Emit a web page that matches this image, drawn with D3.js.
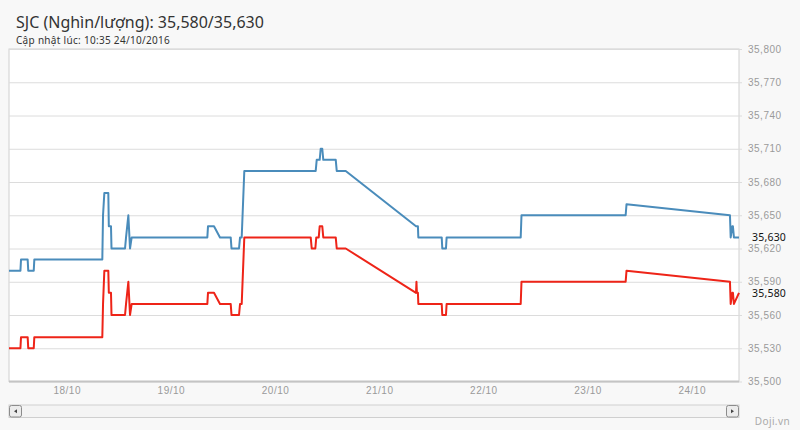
<!doctype html>
<html>
<head>
<meta charset="utf-8">
<style>
body { margin:0; background:#f8f8f8; font-family:"Noto Sans", sans-serif; }
.axis text { fill:#9a9a9a; font-size:10px; letter-spacing:0.5px; }
.axis path { display:none; }
.grid line { stroke:#dcdcdc; }
.grid path, .grid text { display:none; }
</style>
<script src="https://d3js.org/d3.v7.min.js"></script>
</head>
<body>
<script>

// gia ban (xanh) / gia mua (do), nghin dong / luong
var sellTimes = ["17/10 10:42","17/10 13:20","17/10 13:28","17/10 15:00","17/10 15:08","17/10 16:24","17/10 16:32",
  "18/10 08:12","18/10 08:22","18/10 08:40","18/10 09:35","18/10 09:42","18/10 10:12","18/10 10:19","18/10 13:26",
  "18/10 13:40","18/10 14:12","18/10 14:35","18/10 14:58","19/10 08:24","19/10 08:33","19/10 09:56","19/10 11:19",
  "19/10 13:47","19/10 13:58","19/10 15:42","19/10 15:56","19/10 16:19","19/10 16:55","20/10 09:22","20/10 09:36",
  "20/10 10:17","20/10 10:31","20/10 10:53","20/10 11:07","20/10 13:59","20/10 14:13","20/10 16:17","21/10 08:29",
  "21/10 08:55","21/10 09:01","21/10 14:24","21/10 14:32","21/10 15:23","21/10 15:32","22/10 08:36","22/10 08:47",
  "23/10 08:47","23/10 08:59","24/10 08:49","24/10 08:59","24/10 09:21","24/10 09:30","24/10 09:44","24/10 10:54"];
var sellValues = [35600,35600,35610,35610,35600,35600,35610,
  35610,35650,35670,35670,35640,35640,35620,35620,
  35630,35650,35620,35630,35630,35640,35640,35630,
  35630,35620,35620,35630,35630,35690,35690,35700,
  35700,35710,35710,35700,35700,35690,35690,35640,
  35640,35630,35630,35620,35620,35630,35630,35650,
  35650,35660,35650,35630,35640,35640,35630,35630];

var buyTimes = ["17/10 10:42","17/10 13:20","17/10 13:28","17/10 15:00","17/10 15:08","17/10 16:24","17/10 16:32",
  "18/10 08:12","18/10 08:22","18/10 08:40","18/10 09:35","18/10 09:42","18/10 10:12","18/10 10:19","18/10 13:26",
  "18/10 13:40","18/10 14:12","18/10 14:35","18/10 14:58","19/10 08:24","19/10 08:33","19/10 09:56","19/10 11:19",
  "19/10 13:47","19/10 13:58","19/10 15:42","19/10 15:56","19/10 16:19","19/10 16:55","20/10 08:13","20/10 08:27",
  "20/10 09:17","20/10 09:30","20/10 10:04","20/10 10:17","20/10 10:53","20/10 11:07","20/10 13:59","20/10 14:13",
  "20/10 16:17","21/10 08:29","21/10 08:35","21/10 08:41","21/10 08:55","21/10 09:01","21/10 14:24","21/10 14:32",
  "21/10 15:23","21/10 15:32","22/10 08:36","22/10 08:47","23/10 08:47","23/10 08:59","24/10 08:49","24/10 08:59",
  "24/10 09:21","24/10 09:30","24/10 09:44","24/10 10:54"];
var buyValues = [35530,35530,35540,35540,35530,35530,35540,
  35540,35570,35600,35600,35580,35580,35560,35560,
  35570,35590,35560,35570,35570,35580,35580,35570,
  35570,35560,35560,35570,35570,35630,35630,35620,
  35620,35630,35630,35640,35640,35630,35630,35620,
  35620,35580,35590,35580,35580,35570,35570,35560,
  35560,35570,35570,35590,35590,35600,35590,35570,
  35580,35580,35570,35580];

var yTicks = [35500,35530,35560,35590,35620,35650,35680,35710,35740,35770,35800];
var xStart = "17/10 10:42", xEnd = "24/10 10:54";
var lastBuy = 35580, lastSell = 35630;
var titleText = "SJC (Nghìn/lượng): 35,580/35,630";
var updatedText = "Cập nhật lúc: 10:35 24/10/2016";

var W = 800, H = 430;
var plotL = 9, plotR = 739, plotT = 49, plotB = 381.5;

var parse = function (s) { return d3.timeParse("%Y %d/%m %H:%M")("2016 " + s); };

var svg = d3.select("body").append("svg")
  .attr("width", W).attr("height", H);

svg.append("rect").attr("width", W).attr("height", H).attr("fill", "#f8f8f8");

var x = d3.scaleTime().domain([parse(xStart), parse(xEnd)]).range([plotL, plotR]);
var y = d3.scaleLinear().domain([35500, 35800]).range([plotB, plotT]);

// plot background
svg.append("rect")
  .attr("x", plotL).attr("y", plotT)
  .attr("width", plotR - plotL).attr("height", plotB - plotT)
  .attr("fill", "#fff").attr("stroke", "#d0d0d0");

// grid
svg.append("g").attr("class", "grid")
  .attr("transform", "translate(" + (plotR + 3) + ",0)")
  .call(d3.axisLeft(y).tickValues(yTicks).tickSize(plotR - plotL + 3).tickFormat(""));

// bottom border
svg.append("line")
  .attr("x1", plotL).attr("x2", plotR).attr("y1", plotB).attr("y2", plotB)
  .attr("stroke", "#c4c4c4").attr("stroke-width", 2);

// y axis on right
svg.append("g").attr("class", "axis")
  .attr("transform", "translate(" + plotR + ",0)")
  .call(d3.axisRight(y).tickValues(yTicks).tickSize(0).tickPadding(9).tickFormat(d3.format(",")));

// x axis
svg.append("g").attr("class", "axis")
  .attr("transform", "translate(0," + plotB + ")")
  .call(d3.axisBottom(x).ticks(d3.timeDay.every(1)).tickSize(0).tickPadding(5)
    .tickFormat(d3.timeFormat("%d/%m")));

var line = d3.line()
  .x(function (d) { return x(d[0]); })
  .y(function (d) { return y(d[1]); });

var sell = sellTimes.map(function (t, i) { return [parse(t), sellValues[i]]; });
var buy = buyTimes.map(function (t, i) { return [parse(t), buyValues[i]]; });

svg.append("path").datum(sell).attr("d", line)
  .attr("fill", "none").attr("stroke", "#4a8cbb").attr("stroke-width", 2).attr("stroke-linejoin", "round");
svg.append("path").datum(buy).attr("d", line)
  .attr("fill", "none").attr("stroke", "#ee2418").attr("stroke-width", 2).attr("stroke-linejoin", "round");

// last value labels
[lastSell, lastBuy].forEach(function (v) {
  svg.append("text")
    .attr("x", plotR + 13).attr("y", y(v)).attr("dy", "0.35em")
    .attr("font-size", 10.5).attr("fill", "#111").attr("letter-spacing", 0.2)
    .text(d3.format(",")(v));
});

// title
svg.append("text").attr("x", 16).attr("y", 28)
  .attr("font-size", 16).attr("fill", "#333").text(titleText);
svg.append("text").attr("x", 16).attr("y", 44)
  .attr("font-size", 10).attr("fill", "#333").attr("letter-spacing", 0.3).text(updatedText);

// scrollbar
var sb = svg.append("g");
sb.append("rect").attr("x", plotL).attr("y", 405).attr("width", plotR - plotL).attr("height", 12.5)
  .attr("fill", "#f4f4f4").attr("stroke", "#cfcfcf");
[[plotL, -1], [plotR - 13, 1]].forEach(function (b) {
  sb.append("rect").attr("x", b[0] + 0.5).attr("y", 405.5).attr("width", 12).attr("height", 11.5)
    .attr("rx", 2).attr("fill", "#ececec").attr("stroke", "#8c8c8c");
  var cx = b[0] + 6.5, cy = 411.25;
  sb.append("path")
    .attr("d", "M" + (cx - 1.5 * b[1]) + "," + (cy - 2) + "L" + (cx + 1.5 * b[1]) + "," + cy + "L" + (cx - 1.5 * b[1]) + "," + (cy + 2) + "Z")
    .attr("fill", "#444");
});

svg.append("text").attr("x", 790).attr("y", 425).attr("text-anchor", "end")
  .attr("font-size", 10).attr("fill", "#aaa").attr("letter-spacing", 0.4).text("Doji.vn");

</script>
</body>
</html>
